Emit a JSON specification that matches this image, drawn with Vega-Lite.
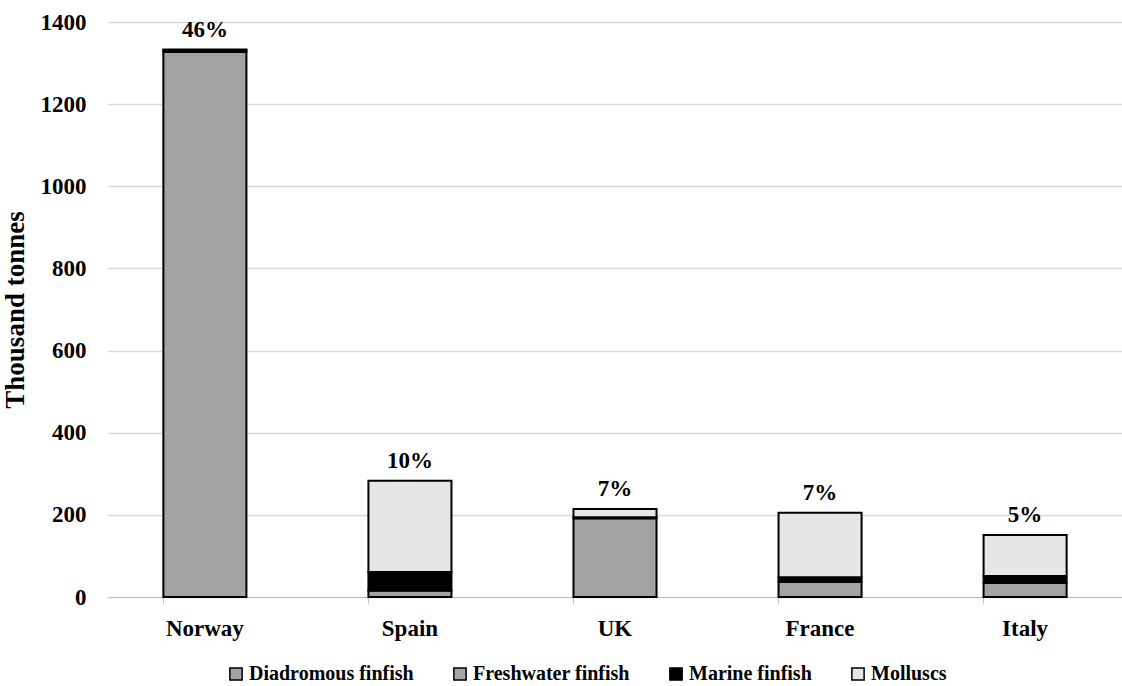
{
  "$schema": "https://vega.github.io/schema/vega-lite/v6.json",
  "autosize": {"type": "none"},
  "width": 1014,
  "height": 575,
  "padding": {"left": 108, "top": 22, "right": 0, "bottom": 89},
  "background": "white",
  "config": {
    "font": "Liberation Serif",
    "view": {"stroke": null},
    "axis": {"labelFont": "Liberation Serif", "titleFont": "Liberation Serif", "labelFontWeight": "bold", "titleFontWeight": "bold", "labelColor": "black", "titleColor": "black"},
    "legend": {"labelFont": "Liberation Serif", "labelFontWeight": "bold", "labelColor": "black"}
  },
  "data": {
    "values": [
      {"country": "Norway", "type": "Diadromous finfish", "ord": 1, "value": 1327, "share": "46%"},
      {"country": "Norway", "type": "Freshwater finfish", "ord": 2, "value": 0, "share": "46%"},
      {"country": "Norway", "type": "Marine finfish", "ord": 3, "value": 4, "share": "46%"},
      {"country": "Norway", "type": "Molluscs", "ord": 4, "value": 2, "share": "46%"},
      {"country": "Spain", "type": "Diadromous finfish", "ord": 1, "value": 16, "share": "10%"},
      {"country": "Spain", "type": "Freshwater finfish", "ord": 2, "value": 0, "share": "10%"},
      {"country": "Spain", "type": "Marine finfish", "ord": 3, "value": 45, "share": "10%"},
      {"country": "Spain", "type": "Molluscs", "ord": 4, "value": 222, "share": "10%"},
      {"country": "UK", "type": "Diadromous finfish", "ord": 1, "value": 192, "share": "7%"},
      {"country": "UK", "type": "Freshwater finfish", "ord": 2, "value": 0, "share": "7%"},
      {"country": "UK", "type": "Marine finfish", "ord": 3, "value": 2, "share": "7%"},
      {"country": "UK", "type": "Molluscs", "ord": 4, "value": 20, "share": "7%"},
      {"country": "France", "type": "Diadromous finfish", "ord": 1, "value": 37, "share": "7%"},
      {"country": "France", "type": "Freshwater finfish", "ord": 2, "value": 0, "share": "7%"},
      {"country": "France", "type": "Marine finfish", "ord": 3, "value": 11, "share": "7%"},
      {"country": "France", "type": "Molluscs", "ord": 4, "value": 157, "share": "7%"},
      {"country": "Italy", "type": "Diadromous finfish", "ord": 1, "value": 34, "share": "5%"},
      {"country": "Italy", "type": "Freshwater finfish", "ord": 2, "value": 0, "share": "5%"},
      {"country": "Italy", "type": "Marine finfish", "ord": 3, "value": 17, "share": "5%"},
      {"country": "Italy", "type": "Molluscs", "ord": 4, "value": 100, "share": "5%"}
    ]
  },
  "encoding": {
    "x": {
      "field": "country",
      "type": "nominal",
      "sort": ["Norway", "Spain", "UK", "France", "Italy"],
      "scale": {"paddingInner": 0.595, "paddingOuter": 0.27},
      "axis": {
        "title": null,
        "labelAngle": 0,
        "labelFontSize": 23,
        "labelPadding": 14,
        "bandPosition": 0,
        "tickSize": 6,
        "tickColor": "#bfbfbf",
        "domainColor": "#bfbfbf",
        "grid": false
      }
    }
  },
  "layer": [
    {
      "mark": {"type": "bar", "stroke": "black", "strokeWidth": 2},
      "encoding": {
        "y": {
          "field": "value",
          "type": "quantitative",
          "stack": "zero",
          "scale": {"domain": [0, 1400]},
          "axis": {
            "title": "Thousand tonnes",
            "titleFontSize": 27,
            "titlePadding": 11,
            "labelFontSize": 23,
            "labelPadding": 22,
            "format": "d",
            "labelOverlap": false,
            "values": [0, 200, 400, 600, 800, 1000, 1200, 1400],
            "ticks": false,
            "domain": false,
            "grid": true,
            "gridColor": "#d9d9d9",
            "gridWidth": 1.5
          }
        },
        "order": {"field": "ord", "type": "quantitative"},
        "color": {
          "field": "type",
          "type": "nominal",
          "sort": ["Diadromous finfish", "Freshwater finfish", "Marine finfish", "Molluscs"],
          "scale": {
            "domain": ["Diadromous finfish", "Freshwater finfish", "Marine finfish", "Molluscs"],
            "range": ["#a3a3a3", "#a6a6a6", "#000000", "#e6e6e6"]
          },
          "legend": {
            "title": null,
            "orient": "none",
            "direction": "horizontal",
            "legendX": 118,
            "legendY": 642,
            "symbolType": "square",
            "symbolSize": 150,
            "symbolStrokeColor": "black",
            "symbolStrokeWidth": 1.5,
            "symbolOpacity": 1,
            "labelFontSize": 20,
            "labelLimit": 400,
            "labelOffset": 3,
            "columnPadding": 36
          }
        }
      }
    },
    {
      "transform": [
        {"aggregate": [{"op": "sum", "field": "value", "as": "total"}], "groupby": ["country", "share"]}
      ],
      "mark": {"type": "text", "fontSize": 23, "fontWeight": "bold", "baseline": "bottom", "dy": -8, "color": "black", "font": "Liberation Serif"},
      "encoding": {
        "y": {"field": "total", "type": "quantitative"},
        "text": {"field": "share"}
      }
    }
  ]
}
